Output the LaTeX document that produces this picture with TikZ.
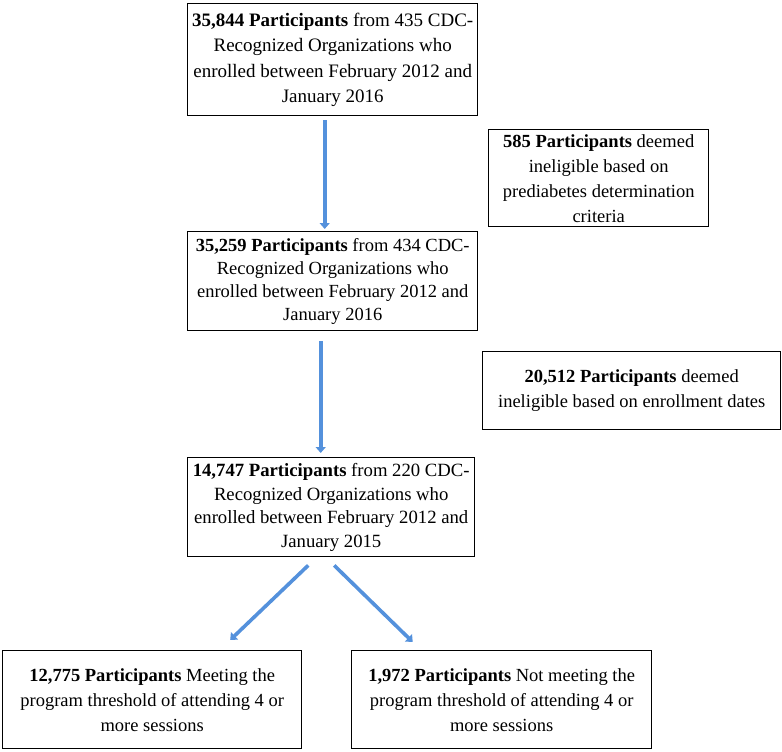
\documentclass[tikz,border=0pt]{standalone}
\usepackage{fontspec}
\setmainfont{Liberation Serif}
\usetikzlibrary{arrows.meta}
\definecolor{arrowblue}{RGB}{84,145,220}
\begin{document}
\begin{tikzpicture}[x=1pt,y=-1pt,
  box/.style={draw=black,line width=1.4pt,align=center,inner sep=0pt,
    font=\fontsize{18.5}{25}\selectfont,anchor=north west},
  flow/.style={draw=arrowblue,line width=3.6pt,-{Triangle[width=10pt,length=6pt]}}]
\useasboundingbox (0,0) rectangle (782,752);
\node[box,minimum width=290pt,minimum height=112pt,font=\fontsize{19}{25.5}\selectfont] (b1) at (187,3)
  {\textbf{35,844 Participants} from 435 CDC-\\Recognized Organizations who\\enrolled between February 2012 and\\January 2016};
\node[box,minimum width=220pt,minimum height=97pt] (b2) at (488,129)
  {\textbf{585 Participants} deemed\\ineligible based on\\prediabetes determination\\criteria};
\node[box,minimum width=290pt,minimum height=99pt,font=\fontsize{18.5}{23}\selectfont] (b3) at (187,231)
  {\textbf{35,259 Participants} from 434 CDC-\\Recognized Organizations who\\enrolled between February 2012 and\\January 2016};
\node[box,minimum width=298pt,minimum height=78pt] (b4) at (482,351)
  {\textbf{20,512 Participants} deemed\\ineligible based on enrollment dates};
\node[box,minimum width=287pt,minimum height=99pt,font=\fontsize{18.7}{23.5}\selectfont] (b5) at (187,457)
  {\textbf{14,747 Participants} from 220 CDC-\\Recognized Organizations who\\enrolled between February 2012 and\\January 2015};
\node[box,minimum width=299pt,minimum height=98pt] (b6) at (2,650)
  {\textbf{12,775 Participants} Meeting the\\program threshold of attending 4 or\\more sessions};
\node[box,minimum width=300pt,minimum height=98pt] (b7) at (351,650)
  {\textbf{1,972 Participants} Not meeting the\\program threshold of attending 4 or\\more sessions};
\draw[flow] ([xshift=-8pt,yshift=-4pt]b1.south) -- ([xshift=-8pt,yshift=2pt]b3.north);
\draw[flow] ([xshift=-12pt,yshift=-10pt]b3.south) -- ([xshift=-10.5pt,yshift=4pt]b5.north);
\draw[flow] ([xshift=-23pt,yshift=-8pt]b5.south) -- ([xshift=78pt,yshift=10pt]b6.north);
\draw[flow] ([xshift=3pt,yshift=-8pt]b5.south) -- ([xshift=-89pt,yshift=8pt]b7.north);
\end{tikzpicture}
\end{document}
